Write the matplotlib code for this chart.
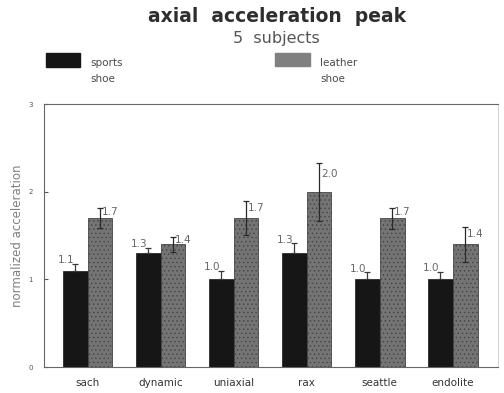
import numpy as np
import matplotlib.pyplot as plt
from matplotlib.patches import Rectangle

plt.rcParams['font.family'] = ['DejaVu Sans']
plt.rcParams['hatch.color'] = '#666666'
plt.rcParams['hatch.linewidth'] = 0.5

categories = ['sach', 'dynamic', 'uniaxial', 'rax', 'seattle', 'endolite']
sports = [1.1, 1.3, 1.0, 1.3, 1.0, 1.0]
leather = [1.7, 1.4, 1.7, 2.0, 1.7, 1.4]
sports_err = [0.08, 0.06, 0.10, 0.11, 0.08, 0.09]
leather_err = [0.11, 0.085, 0.19, 0.33, 0.12, 0.20]

dark = '#161616'
grey = '#747474'
txt = '#4a4a4a'

fig = plt.figure(figsize=(5.04, 3.93), dpi=100)
ax = fig.add_axes([0.087, 0.066, 0.901, 0.669])

x = np.arange(len(categories))
w = 0.34

ax.bar(x - w / 2, sports, w, color=dark, edgecolor=dark, linewidth=0.5)
ax.bar(x + w / 2, leather, w, color=grey, edgecolor='#444444', linewidth=0.6,
       hatch='....')

# only the upper half shows above the black bars
ax.errorbar(x - w / 2, sports, yerr=[np.zeros(len(sports)), sports_err],
            fmt='none', ecolor='#3a3a3a', elinewidth=0.9, capsize=2.5,
            capthick=0.9)
ax.errorbar(x + w / 2, leather, yerr=leather_err, fmt='none', ecolor='#2a2a2a',
            elinewidth=0.9, capsize=2.5, capthick=0.9)

# value labels: left of the cap for sports, right of the cap for leather
for xi, v, e in zip(x, sports, sports_err):
    ax.text(xi - w / 2 - 0.01, v + e + 0.04, f'{v:.1f}', ha='right',
            va='center', fontsize=7.5, color='#666666')
for xi, v, e in zip(x, leather, leather_err):
    ax.text(xi + w / 2 + 0.03, v + e * 0.6, f'{v:.1f}', ha='left',
            va='center', fontsize=7.5, color='#666666')

ax.set_xlim(-0.6, 5.62)
ax.set_ylim(0, 3)
ax.set_yticks([0, 1, 2, 3])
ax.set_xticks(x)
ax.set_xticklabels(categories, fontsize=7.5, color='#333333')
ax.tick_params(axis='y', direction='in', length=3, labelsize=5, pad=8,
               colors='#555555')
ax.tick_params(axis='x', length=0, pad=8)
ax.set_ylabel('normalized acceleration', fontsize=8.5, color='#808080',
              labelpad=3)

for s in ['left', 'bottom', 'top']:
    ax.spines[s].set_color('#666666')
    ax.spines[s].set_linewidth(0.8)
ax.spines['right'].set_color('#cccccc')
ax.spines['right'].set_linewidth(0.6)

fig.text(0.55, 0.957, 'axial  acceleration  peak', ha='center', va='center',
         fontsize=13.5, fontweight='bold', color='#2e2e2e')
fig.text(0.548, 0.901, '5  subjects', ha='center', va='center', fontsize=11.5,
         color='#555555')

# legend drawn by hand in figure coordinates
fig.patches.append(Rectangle((46 / 504, 1 - 67 / 393), 34 / 504, 14 / 393,
                             transform=fig.transFigure, color=dark))
fig.patches.append(Rectangle((275 / 504, 1 - 66 / 393), 35 / 504, 13 / 393,
                             transform=fig.transFigure, facecolor='#808080',
                             edgecolor='#808080'))
fig.text(90 / 504, 1 - 71 / 393, 'sports\nshoe', fontsize=7.5, color=txt,
         va='center', linespacing=1.8)
fig.text(320 / 504, 1 - 71 / 393, 'leather\nshoe', fontsize=7.5, color=txt,
         va='center', linespacing=1.8)

fig.savefig('out.png', dpi=100)
